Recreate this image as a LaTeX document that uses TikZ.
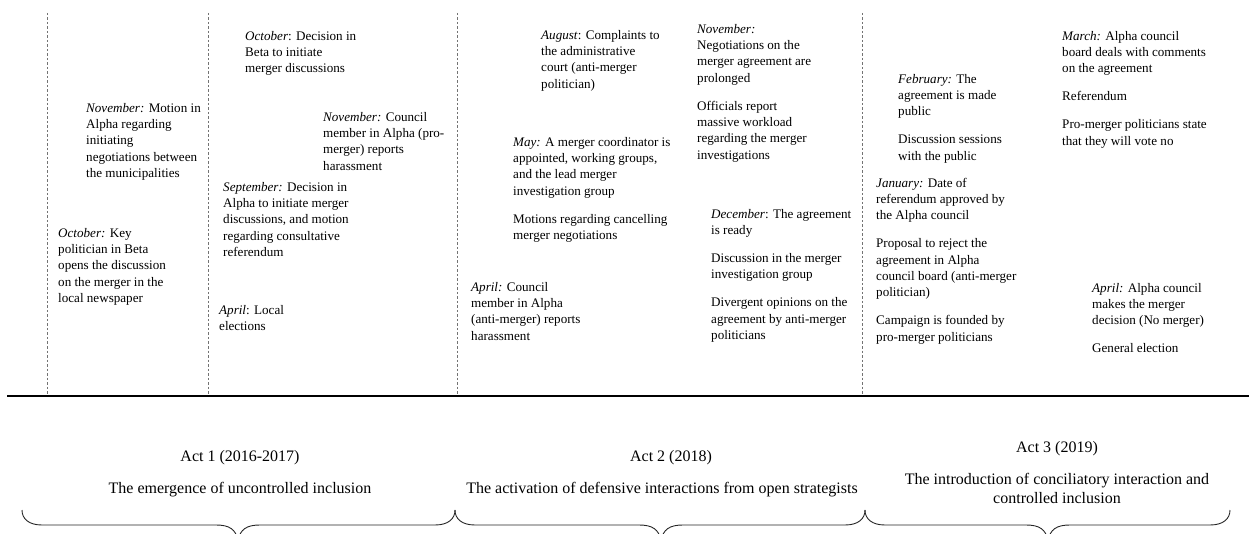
\documentclass[tikz,border=0pt]{standalone}
\usepackage{fontspec}
\setmainfont{Liberation Serif}
\newcommand{\evfont}{\fontsize{13.1}{16.3}\selectfont}
\newcommand{\actfont}{\fontsize{16}{19}\selectfont}
\newcommand{\mybrace}[3]{\draw[brc] (#1,510) .. controls (#1,519) and ({#1+7},525) .. ({#1+20},525) -- ({#2-22},525) .. controls ({#2-9},525) and ({#2-2},529) .. (#2,541) .. controls ({#2+2},529) and ({#2+9},525) .. ({#2+22},525) -- ({#3-20},525) .. controls ({#3-7},525) and (#3,519) .. (#3,510);}
\begin{document}
\begin{tikzpicture}[x=1pt,y=-1pt,
 ev/.style={anchor=north west, inner sep=0pt, align=left, font=\evfont},
 act/.style={anchor=north, inner sep=0pt, align=center, font=\actfont},
 sepline/.style={black!55, line width=0.8pt, dash pattern=on 2.5pt off 2pt},
 axisline/.style={black, line width=1.3pt},
 brc/.style={black!85, line width=0.9pt}]
\useasboundingbox (0,0) rectangle (1249,534);
\clip (0,0) rectangle (1249,534);
% separators
\foreach \xx in {47,208,457,862}{\draw[sepline] (\xx,13) -- (\xx,395);}
\coordinate (axL) at (7,396);
\coordinate (axR) at (1249,396);
\draw[axisline] (axL) -- (axR);
% Act 1 events
\node[ev] (a1) at (86,100.6) {\strut\textit{November:} Motion in\\Alpha regarding\\initiating\\negotiations between\\the municipalities};
\node[ev] (a2) at (58,225.6) {\strut\textit{October:} Key\\politician in Beta\\opens the discussion\\on the merger in the\\local newspaper};
\node[ev] (a3) at (245,28.6) {\strut\textit{October}: Decision in\\Beta to initiate\\merger discussions};
\node[ev] (a4) at (323,109.6) {\strut\textit{November:} Council\\member in Alpha (pro-\\merger) reports\\harassment};
\node[ev] (a5) at (223,179.6) {\strut\textit{September:} Decision in\\Alpha to initiate merger\\discussions, and motion\\regarding consultative\\referendum};
\node[ev] (a6) at (219,302.6) {\strut\textit{April}: Local\\elections};
% Act 2 events
\node[ev] (b1) at (541,27.6) {\strut\textit{August}: Complaints to\\the administrative\\court (anti-merger\\politician)};
\node[ev] (b2) at (513,134.6) {\strut\textit{May:} A merger coordinator is\\appointed, working groups,\\and the lead merger\\investigation group\\[11.7pt]Motions regarding cancelling\\merger negotiations};
\node[ev] (b3) at (471,279.6) {\strut\textit{April:} Council\\member in Alpha\\(anti-merger) reports\\harassment};
\node[ev] (b4) at (697,21.6) {\strut\textit{November:}\\Negotiations on the\\merger agreement are\\prolonged\\[11.7pt]Officials report\\massive workload\\regarding the merger\\investigations};
\node[ev] (b5) at (711,206.6) {\strut\textit{December}: The agreement\\is ready\\[11.7pt]Discussion in the merger\\investigation group\\[11.7pt]Divergent opinions on the\\agreement by anti-merger\\politicians};
% Act 3 events
\node[ev] (c1) at (898,71.6) {\strut\textit{February:} The\\agreement is made\\public\\[11.7pt]Discussion sessions\\with the public};
\node[ev] (c2) at (876,175.6) {\strut\textit{January:} Date of\\referendum approved by\\the Alpha council\\[11.7pt]Proposal to reject the\\agreement in Alpha\\council board (anti-merger\\politician)\\[11.7pt]Campaign is founded by\\pro-merger politicians};
\node[ev] (c3) at (1062,28.6) {\strut\textit{March:} Alpha council\\board deals with comments\\on the agreement\\[11.7pt]Referendum\\[11.7pt]Pro-merger politicians state\\that they will vote no};
\node[ev] (c4) at (1092,280.6) {\strut\textit{April:} Alpha council\\makes the merger\\decision (No merger)\\[11.7pt]General election};
% Acts
\node[act] (act1) at (240,447.7) {\strut Act 1 (2016-2017)};
\node[act] (sub1) at (240,479.7) {\strut The emergence of uncontrolled inclusion};
\node[act] (act2) at (671,447.7) {\strut Act 2 (2018)};
\node[act] (sub2) at (662,479.7) {\strut The activation of defensive interactions from open strategists};
\node[act] (act3) at (1057,438.7) {\strut Act 3 (2019)};
\node[act] (sub3) at (1057,470.7) {\strut The introduction of conciliatory interaction and\\controlled inclusion};
% braces
\mybrace{22}{238}{455}
\mybrace{455}{661}{865}
\mybrace{865}{1048}{1230}
\end{tikzpicture}
\end{document}
